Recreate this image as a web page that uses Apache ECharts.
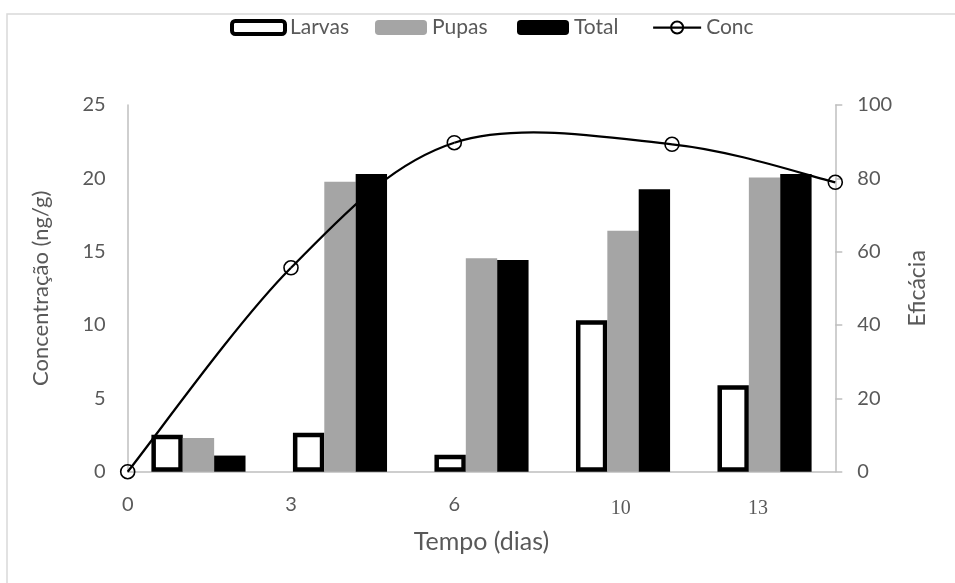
<!DOCTYPE html>
<html>
<head>
<meta charset="utf-8">
<script src="https://cdn.jsdelivr.net/npm/echarts@6/dist/echarts.min.js"></script>
<style>
  html, body { margin: 0; padding: 0; background: #fff; }
  #chart { width: 955px; height: 583px; }
</style>
</head>
<body>
<div id="chart"></div>
<script>
// Sampling days and their printed labels
const days = [0, 3, 6, 10, 13];
const dayLabels = ['0', '3', '6', '10', '13'];

// Eficácia (%) per stage
const larvas = [10.1, 10.6, 4.6, 41.3, 23.6];
const pupas = [9.2, 79.1, 58.2, 65.7, 80.2];
const total = [4.4, 81.2, 57.7, 77.0, 81.2];

// Concentração (ng/g)
const conc = [0, 13.9, 22.43, 22.32, 19.73];

// Where each day label sits along the time axis (axis units), and its face
const dayLabelAt = [0, 3, 6, 9.06, 11.58];
const dayLabelSerif = [false, false, false, true, true];

const SANS = 'Lato, "Open Sans", sans-serif';
const SERIF = '"Liberation Serif", "DejaVu Serif", serif';
const TEXT = '#595959';
const AXIS = '#bfbfbf';

const chart = echarts.init(document.getElementById('chart'), null, { renderer: 'canvas' });

const legendText = { color: TEXT, fontSize: 21, fontFamily: SANS };
const legendBase = { top: 17, padding: 0, itemHeight: 15, textStyle: legendText };

// Smooth curve through the concentration points (cardinal spline, 1/6 handles)
function renderConcCurve(params, api) {
  if (params.dataIndex !== 0) return null;
  const pts = days.map((d, i) => api.coord([d, conc[i]]));
  const n = pts.length;
  const children = [];
  for (let i = 0; i < n - 1; i++) {
    const p0 = pts[Math.max(i - 1, 0)];
    const p1 = pts[i];
    const p2 = pts[i + 1];
    const p3 = pts[Math.min(i + 2, n - 1)];
    children.push({
      type: 'bezierCurve',
      shape: {
        x1: p1[0], y1: p1[1],
        cpx1: p1[0] + (p2[0] - p0[0]) / 6,
        cpy1: p1[1] + (p2[1] - p0[1]) / 6,
        cpx2: p2[0] - (p3[0] - p1[0]) / 6,
        cpy2: p2[1] - (p3[1] - p1[1]) / 6,
        x2: p2[0], y2: p2[1]
      },
      style: { stroke: '#000000', lineWidth: 2.25, fill: null }
    });
  }
  return { type: 'group', children: children };
}

const option = {
  backgroundColor: '#fff',
  animation: false,
  textStyle: { fontFamily: SANS },
  legend: [
    Object.assign({}, legendBase, {
      data: ['Larvas'], left: 230, itemWidth: 53, itemHeight: 13,
      itemStyle: { borderWidth: 4, borderColor: '#000000', color: '#ffffff' }
    }),
    Object.assign({}, legendBase, { data: ['Pupas'], left: 375, itemWidth: 52 }),
    Object.assign({}, legendBase, { data: ['Total'], left: 517, itemWidth: 52 }),
    Object.assign({}, legendBase, {
      data: [{ name: 'Conc', lineStyle: { color: '#000000', width: 2.25, opacity: 1 } }],
      left: 652, itemWidth: 48
    })
  ],
  grid: { left: 127.7, right: 119.7, top: 105, bottom: 111.3, containLabel: false },
  xAxis: [
    {
      type: 'category',
      data: dayLabels,
      boundaryGap: true,
      axisLine: { show: true, lineStyle: { color: AXIS, width: 1.5 } },
      axisTick: { show: false },
      axisLabel: { show: false },
      splitLine: { show: false },
      name: 'Tempo (dias)',
      nameLocation: 'middle',
      nameGap: 58,
      nameTextStyle: { color: TEXT, fontSize: 25, fontFamily: SANS }
    },
    {
      type: 'value',
      min: 0,
      max: 13,
      show: false
    }
  ],
  yAxis: [
    {
      type: 'value',
      position: 'left',
      min: 0,
      max: 25,
      interval: 5,
      axisLine: { show: true, lineStyle: { color: AXIS, width: 1.5 } },
      axisTick: { show: false },
      splitLine: { show: false },
      axisLabel: { color: TEXT, fontSize: 20, fontFamily: SANS, margin: 22 },
      name: 'Concentração (ng/g)',
      nameLocation: 'middle',
      nameRotate: 90,
      nameGap: 76,
      nameTextStyle: { color: TEXT, fontSize: 22, fontFamily: SANS }
    },
    {
      type: 'value',
      position: 'right',
      min: 0,
      max: 100,
      interval: 20,
      axisLine: { show: true, lineStyle: { color: AXIS, width: 1.5 } },
      axisTick: { show: true, inside: false, length: 7, lineStyle: { color: AXIS, width: 1.5 } },
      splitLine: { show: false },
      axisLabel: { color: TEXT, fontSize: 20, fontFamily: SANS, margin: 22 },
      name: 'Eficácia',
      nameLocation: 'middle',
      nameRotate: 90,
      nameGap: 71,
      nameTextStyle: { color: TEXT, fontSize: 23, fontFamily: SANS }
    }
  ],
  series: [
    {
      name: 'Larvas',
      type: 'bar',
      xAxisIndex: 0,
      yAxisIndex: 1,
      data: larvas,
      barGap: '0%',
      barCategoryGap: '33.5%',
      itemStyle: { color: '#ffffff', borderColor: '#000000', borderWidth: 4.5 }
    },
    {
      name: 'Pupas',
      type: 'bar',
      xAxisIndex: 0,
      yAxisIndex: 1,
      data: pupas,
      barGap: '0%',
      barCategoryGap: '33.5%',
      itemStyle: { color: '#a5a5a5' }
    },
    {
      name: 'Total',
      type: 'bar',
      xAxisIndex: 0,
      yAxisIndex: 1,
      data: total,
      barGap: '0%',
      barCategoryGap: '33.5%',
      itemStyle: { color: '#000000' }
    },
    {
      name: 'Conc (curva)',
      type: 'custom',
      coordinateSystem: 'cartesian2d',
      xAxisIndex: 1,
      yAxisIndex: 0,
      data: days.map((d, i) => [d, conc[i]]),
      renderItem: renderConcCurve,
      silent: true,
      z: 4
    },
    {
      name: 'Conc',
      type: 'line',
      xAxisIndex: 1,
      yAxisIndex: 0,
      data: days.map((d, i) => [d, conc[i]]),
      symbol: 'circle',
      symbolSize: 14,
      lineStyle: { color: '#000000', width: 2.25, opacity: 0 },
      itemStyle: { color: 'rgba(0,0,0,0)', borderColor: '#000000', borderWidth: 1.6 },
      z: 5
    }
  ]
};

chart.setOption(option);

// Day labels under the time axis, plus the outer chart frame
const baseY = chart.convertToPixel({ yAxisIndex: 1 }, 0);
const labelGraphics = dayLabels.map((txt, i) => {
  const px = chart.convertToPixel({ xAxisIndex: 1 }, dayLabelAt[i]);
  const serif = dayLabelSerif[i];
  return {
    type: 'text',
    x: px,
    y: baseY + (serif ? 37 : 33),
    style: {
      text: txt,
      fill: TEXT,
      font: (serif ? '20px ' + SERIF : '20px ' + SANS),
      textAlign: 'center',
      textVerticalAlign: 'middle'
    },
    z: 10
  };
});

chart.setOption({
  graphic: [
    {
      type: 'rect',
      shape: { x: 7, y: 14, width: 1000, height: 620 },
      style: { fill: 'none', stroke: '#d9d9d9', lineWidth: 1.5 },
      silent: true,
      z: -1
    }
  ].concat(labelGraphics)
});
</script>
</body>
</html>
